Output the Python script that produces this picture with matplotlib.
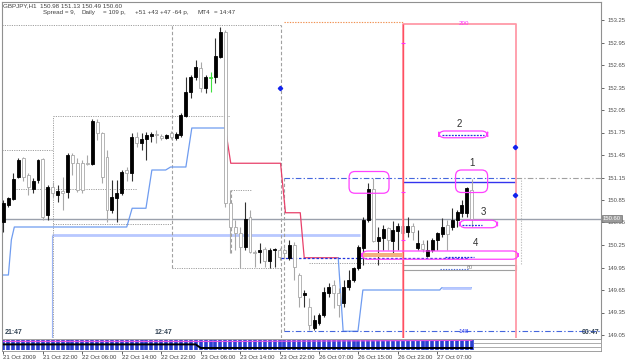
import numpy as np
import matplotlib
matplotlib.use('Agg')
import matplotlib.pyplot as plt
from matplotlib.patches import Rectangle, FancyBboxPatch

plt.rcParams['font.family'] = ['Liberation Sans', 'DejaVu Sans']

# ---- candles GBPJPY H1 (bar index = position on chart) ----
opens = [150.56, 150.78, 150.86, 151.16, 151.41, 151.18, 151.00, 151.12,
         151.40, 150.65, 151.02, 150.92, 150.97, 150.96, 151.45, 151.34,
         151.34, 151.34, 151.33, 151.89, 151.74, 151.42, 150.72, 150.88,
         150.94, 151.25, 151.21, 151.69, 151.61, 151.66, 151.70, 151.73,
         151.70, 151.68, 151.74, 151.68, 151.72, 151.97, 152.29, 152.49,
         152.61, 152.34, 152.48, 152.49, 152.76, 153.09, 150.81, 150.49,
         150.41, 150.22, 150.62, 150.16, 150.16, 150.20, 150.04, 150.18,
         150.18, 150.18, 150.08, 150.25, 149.85, 149.58, 149.42, 149.14,
         149.21, 149.32, 149.61, 149.72, 149.61, 149.48, 149.69, 149.78,
         149.94, 150.21, 150.58, 151.00, 150.30, 150.34, 150.48, 150.30,
         150.44, 150.50, 150.42, 150.50, 150.21, 150.26, 150.10, 150.18,
         150.32, 150.40, 150.52, 150.49, 150.58, 150.68, 150.68, 150.98]
highs = [150.85, 150.89, 151.21, 151.41, 151.42, 151.21, 151.14, 151.40,
         151.41, 151.05, 151.09, 151.05, 151.16, 151.48, 151.48, 151.41,
         151.38, 151.45, 151.93, 151.93, 151.76, 151.52, 151.12, 151.12,
         151.25, 151.29, 151.74, 151.76, 151.74, 151.76, 151.76, 151.78,
         151.73, 151.73, 151.77, 151.76, 152.01, 152.49, 152.52, 152.72,
         152.69, 152.52, 152.56, 153.01, 153.16, 153.12, 150.98, 150.58,
         150.49, 150.82, 150.72, 150.18, 150.28, 150.22, 150.21, 150.21,
         150.21, 150.21, 150.32, 150.29, 149.88, 149.65, 149.54, 149.32,
         149.34, 149.69, 149.74, 149.78, 149.68, 149.78, 149.92, 149.96,
         150.25, 150.62, 151.08, 151.14, 150.49, 150.52, 150.49, 150.57,
         150.54, 150.52, 150.62, 150.54, 150.45, 150.32, 150.32, 150.34,
         150.42, 150.61, 150.58, 150.74, 150.72, 150.85, 151.02, 151.13]
lows = [150.42, 150.76, 150.85, 151.14, 151.10, 150.92, 150.94, 151.08,
        150.58, 150.58, 150.89, 150.82, 150.72, 150.88, 151.18, 150.96,
        150.94, 151.32, 151.32, 151.65, 151.08, 150.56, 150.68, 150.56,
        150.92, 151.10, 151.10, 151.56, 151.52, 151.38, 151.62, 151.61,
        151.65, 151.66, 151.66, 151.65, 151.69, 151.96, 152.21, 152.45,
        152.29, 152.28, 152.29, 152.41, 152.74, 150.76, 150.14, 150.18,
        149.94, 150.18, 150.14, 149.96, 150.01, 149.96, 149.94, 149.96,
        150.05, 150.08, 150.05, 149.78, 149.42, 149.42, 149.12, 149.12,
        149.18, 149.29, 149.56, 149.41, 149.29, 149.42, 149.65, 149.76,
        149.92, 149.98, 150.56, 150.29, 149.98, 150.18, 150.18, 150.14,
        150.18, 150.32, 150.36, 150.32, 150.18, 150.16, 150.09, 150.16,
        150.18, 150.36, 150.18, 150.45, 150.49, 150.62, 150.62, 150.49]
closes = [150.81, 150.88, 151.13, 151.38, 151.16, 151.02, 151.10, 151.38,
          150.62, 151.02, 150.94, 150.97, 150.94, 151.45, 151.34, 150.98,
          150.98, 151.33, 151.90, 151.74, 151.16, 150.72, 150.89, 150.94,
          151.22, 151.21, 151.69, 151.61, 151.66, 151.72, 151.73, 151.72,
          151.68, 151.72, 151.69, 151.73, 151.98, 152.29, 152.49, 152.62,
          152.34, 152.49, 152.48, 152.77, 153.09, 150.81, 150.49, 150.41,
          150.22, 150.60, 150.16, 150.14, 150.18, 150.04, 150.18, 150.20,
          150.09, 150.14, 150.25, 149.96, 149.56, 149.61, 149.18, 149.25,
          149.32, 149.62, 149.69, 149.61, 149.45, 149.69, 149.78, 149.94,
          150.22, 150.58, 151.00, 150.30, 150.36, 150.46, 150.32, 150.45,
          150.50, 150.41, 150.50, 150.42, 150.28, 150.20, 150.18, 150.32,
          150.41, 150.49, 150.40, 150.58, 150.69, 150.78, 151.01, 150.60]
green_bar = 42

# step indicator (blue / red / blue)
blue1_x = [0, 1.0, 1.6, 2.2, 25.0, 26.1, 28.9, 30.1, 32.9, 33.9, 37.0, 38.2, 45.0]
blue1_y = [149.85, 149.85, 150.32, 150.49, 150.49, 150.74, 150.74, 151.25, 151.25,
           151.29, 151.29, 151.81, 151.81]
red_x = [45.0, 46.1, 56.2, 57.2, 60.2, 61.0, 67.9]
red_y = [151.81, 151.34, 151.34, 150.68, 150.68, 150.08, 150.08]
blue2_x = [67.9, 68.9, 71.9, 72.9, 88.5, 88.9, 94.9]
blue2_y = [150.08, 149.10, 149.10, 149.65, 149.65, 149.68, 149.68]

price_ticks = [153.25, 152.95, 152.65, 152.35, 152.05, 151.75, 151.45, 151.15,
               150.85, 150.55, 150.25, 149.95, 149.65, 149.35, 149.05]
date_pos = [0, 8, 16, 24, 32, 40, 48, 56, 64, 72, 80, 88]
date_labels = ['21 Oct 2009', '21 Oct 22:00', '22 Oct 06:00', '22 Oct 14:00',
               '22 Oct 22:00', '23 Oct 06:00', '23 Oct 14:00', '23 Oct 22:00',
               '26 Oct 07:00', '26 Oct 15:00', '26 Oct 23:00', '27 Oct 07:00']
last_price = 150.60

W, H = 625, 361
def frac(x0, y0, x1, y1):
    return [x0 / W, 1 - y1 / H, (x1 - x0) / W, (y1 - y0) / H]

fig = plt.figure(figsize=(6.25, 3.61), dpi=100)
fig.patch.set_facecolor('white')
ax = fig.add_axes(frac(2, 2, 601, 338))
ax.set_xlim(-0.3, 121.2)
ax.set_ylim(149.01, 153.49)
ax.set_facecolor('white')

dot = (0, (1.2, 1.2))
dash = (0, (3, 2))
dashdot = (0, (5, 2, 1.2, 2))
gray = '#a0a0a0'

# --- session boxes / levels (gray dotted) ---
ax.hlines(153.19, -0.3, 56.2, color=gray, lw=0.7, ls=dot)
ax.hlines(151.52, -0.3, 10, color=gray, lw=0.7, ls=dot)
ax.hlines(150.99, 2.5, 27, color=gray, lw=0.7, ls=dot)
ax.hlines(151.97, 10, 46, color=gray, lw=0.7, ls=dot)
ax.hlines(150.53, 10, 34, color=gray, lw=0.7, ls=dot)
ax.vlines(10, 149.01, 151.97, color=gray, lw=0.7, ls=dot)
ax.vlines(34.1, 149.94, 153.19, color=gray, lw=0.8, ls=dash)
ax.hlines(149.94, 34.1, 56.2, color=gray, lw=0.7, ls=dot)
ax.hlines(150.98, 46.2, 50.5, color=gray, lw=0.7, ls=dot)
ax.vlines(46.2, 150.14, 150.98, color=gray, lw=0.8, ls=dash)
ax.vlines(56.2, 149.01, 153.19, color=gray, lw=0.8, ls=dash)
ax.vlines(57, 149.10, 151.14, color=gray, lw=0.8, ls=dash)
ax.hlines(150.01, 62, 81, color=gray, lw=0.7, ls=dot)
ax.vlines(105, 150.0, 151.14, color='#c0c0c0', lw=0.8, ls=dot)

# current price line
ax.axhline(last_price, color='#9aa0ac', lw=1.0, zorder=1)

# thick light blue level
ax.hlines(150.38, 9.9, 72.3, color='#b8c8ff', lw=2.0, zorder=1)
ax.vlines(9.8, 149.01, 150.38, color='#9cb4f4', lw=0.8, zorder=1)

# step indicator
ax.plot(blue1_x, blue1_y, color='#6f9cf0', lw=0.9, zorder=2)
ax.plot(red_x, red_y, color='#e8406a', lw=0.9, zorder=2)
ax.plot(blue2_x, blue2_y, color='#6f9cf0', lw=0.9, zorder=2)
ax.hlines(149.68, 88.9, 94.9, color='#b8c8ff', lw=2.0, zorder=2)

# blue levels
ax.hlines(151.14, 57, 104, color='#4466dd', lw=0.8, ls=dashdot, zorder=2)
ax.hlines(151.14, 104, 121.2, color='#a0a0a0', lw=0.8, ls=dashdot, zorder=2)
ax.hlines(151.09, 81, 104, color='#3333ee', lw=1.0, zorder=2)
ax.hlines(149.10, 57, 121.2, color='#4466dd', lw=0.8, ls=dashdot, zorder=2)
ax.hlines(150.08, 56.2, 94.5, color='#2233dd', lw=0.9, ls=(0, (2, 1.5)), zorder=2)
ax.hlines(149.93, 88.5, 94.5, color='#4466dd', lw=0.8, ls=dot, zorder=2)
ax.hlines(153.22, 57, 81, color='#f09050', lw=0.8, ls=dot, zorder=2)

# gray small box
ax.add_patch(Rectangle((81, 149.92), 23, 0.06, fill=False, ec='#a0a0a0', lw=0.8, zorder=2))

# --- candles ---
for i in range(len(opens)):
    o, h, l, c = opens[i], highs[i], lows[i], closes[i]
    if i == green_bar:
        face, edge, wick = '#40e040', '#40e040', '#40e040'
    elif c >= o:
        face, edge, wick = 'black', 'black', '#303030'
    else:
        face, edge, wick = 'white', '#a8a8a8', '#a8a8a8'
    ax.vlines(i, l, h, color=wick, lw=0.8, zorder=3)
    ax.add_patch(Rectangle((i - 0.3, min(o, c)), 0.6, max(abs(c - o), 0.012),
                           fc=face, ec=edge, lw=0.6, zorder=4))

# --- red box ---
ax.plot([81, 81, 104, 104], [149.01, 153.20, 153.20, 149.01], color='#ff9aa8', lw=1.3, zorder=5)
ax.vlines(81, 149.01, 153.20, color='#ff5060', lw=1.0, zorder=5)
for p in [152.94, 150.96, 150.32]:
    ax.hlines(p, 80.6, 81.4, color='#ff30ff', lw=0.8, zorder=6)
ax.text(93.3, 153.20, '200', color='#ff30ff', fontsize=4.5, ha='center', va='center', zorder=6)
ax.text(93.3, 149.10, '148', color='#2233ee', fontsize=4.5, ha='center', va='center', zorder=6)
ax.text(94.5, 149.955, '60', color='#808080', fontsize=4, ha='center', va='center', zorder=6)

# blue diamonds
ax.plot([56, 103.8, 103.8], [152.34, 151.56, 150.92], ls='none', marker='D',
        ms=2.2, color='#1122ee', zorder=6)

# --- magenta pills ---
def pill(x0, x1, y0, y1):
    ax.add_patch(FancyBboxPatch((x0, y0), x1 - x0, y1 - y0,
                                boxstyle='round,pad=0,rounding_size=1.2',
                                mutation_aspect=0.066, fill=False,
                                ec='#ff40ff', lw=0.9, zorder=6))

pill(70.1, 78.2, 150.94, 151.23)
pill(91.7, 98.2, 150.95, 151.25)
pill(88.3, 98.2, 151.68, 151.77)
pill(92.5, 100.2, 150.48, 150.58)
pill(72.7, 104.4, 150.06, 150.17)
ax.add_patch(Rectangle((72.9, 150.09), 8.1, 0.05, fc='#f4b080', ec='none', zorder=5))
ax.hlines(151.72, 89, 97.5, color='#2233dd', lw=0.9, ls=(0, (1.5, 1)), zorder=6)
ax.hlines(150.52, 93, 97, color='#2233dd', lw=0.9, ls=(0, (1.5, 1)), zorder=6)
ax.hlines(150.09, 89.5, 95.5, color='#2233dd', lw=0.9, ls=(0, (1.5, 1)), zorder=6)

for lab, xi, yp in [('1', 95, 151.34), ('2', 92.5, 151.86), ('3', 97.4, 150.69), ('4', 95.8, 150.27)]:
    ax.text(xi, yp, lab, fontsize=7, color='#303030', ha='center', va='center', zorder=7)

# --- axes styling ---
ax.set_xticks([])
ax.yaxis.tick_right()
ax.set_yticks(price_ticks)
ax.set_yticklabels([f'{p:.2f}' for p in price_ticks])
ax.tick_params(axis='y', labelsize=4.2, colors='#505050', length=2, pad=3, width=0.6)
for s in ['left', 'right', 'top']:
    ax.spines[s].set_color('#909090')
    ax.spines[s].set_linewidth(0.8)
ax.spines['bottom'].set_visible(False)

ax.text(1.003, last_price, f'{last_price:.2f}', transform=ax.get_yaxis_transform(),
        fontsize=4.2, color='white', va='center', ha='left', zorder=10,
        bbox=dict(boxstyle='square,pad=0.2', fc='#9a9a9a', ec='#707070', lw=0.5))

ax.text(0.2, 149.04, '21:47', fontsize=5, fontweight='bold', color='#334455', va='bottom')
ax.text(30.6, 149.04, '12:47', fontsize=5, fontweight='bold', color='#334455', va='bottom')
ax.text(0.997, 149.04, '00:47', fontsize=5, fontweight='bold', color='#334455', va='bottom',
        ha='right', transform=ax.get_yaxis_transform())

# header
fig.text(3 / W, 1 - 3 / H, 'GBPJPY,H1  150.98 151.13 150.49 150.60', fontsize=4.5,
         color='#404040', va='top')
for s, x in [('Spread = 9,', 43), ('Daily', 82), ('= 109 p,', 103),
             ('+51 +43 +47 -64 p,', 135), ('MT4', 197), ('= 14:47', 214)]:
    fig.text(x / W, 1 - 10 / H, s, fontsize=4.5, color='#404040', va='top')

# --- bottom indicator strip ---
bars = np.arange(len(opens))
sx = fig.add_axes(frac(2, 339, 601, 351))
sx.set_xlim(-0.3, 121.2)
sx.set_ylim(0, 1)
sx.vlines(bars, 0.1, 0.9, color='#2a3fd0', lw=2.6)
sx.plot(bars, np.where(bars < 48, 0.8, 0.8 + (bars - 48) * 0.002), color='#e050e0', lw=0.9)
sx.plot(bars, np.where(bars < 40, 0.55, 0.25), color='black', lw=1.4)
sx.hlines([0.35, 0.65], 95.5, 121.2, color='#404040', lw=0.6, ls=dot)
sx.set_yticks([])
sx.set_xticks(date_pos)
sx.set_xticklabels(date_labels)
sx.tick_params(axis='x', labelsize=4.3, colors='#404040', length=2, pad=1, width=0.6)
for lab in sx.get_xticklabels():
    lab.set_ha('left')
for s in sx.spines.values():
    s.set_color('#909090')
    s.set_linewidth(0.6)

fig.savefig('out.png', dpi=100)
